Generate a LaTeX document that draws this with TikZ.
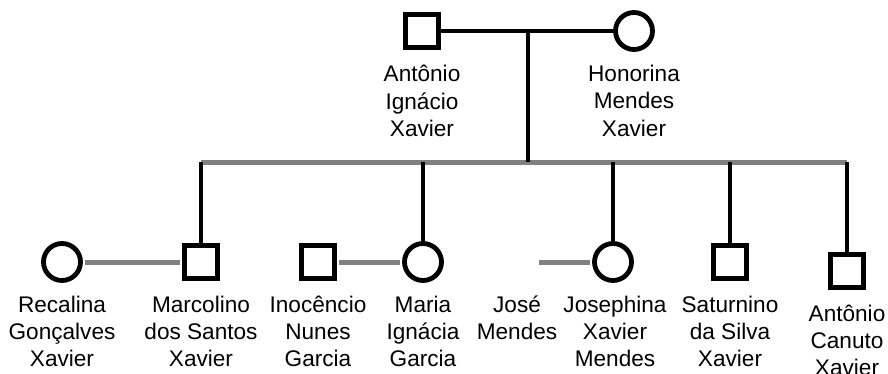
\documentclass[tikz,border=0pt]{standalone}
\usepackage{fontspec}
\setmainfont{Liberation Sans}
\usetikzlibrary{positioning,calc}

\begin{document}
\begin{tikzpicture}[x=0.5pt,y=-0.5pt,line width=2.4pt,
male/.style={rectangle, draw, fill=white, minimum size=16.5pt, inner sep=0pt},
female/.style={circle, draw, fill=white, minimum size=18.5pt, inner sep=0pt},
person/.style={align=center, inner sep=0pt, font=\fontsize{11.3}{13.6}\selectfont},
union/.style={draw=gray, line width=2.5pt, shorten <=1.2pt, shorten >=1.2pt}]
\useasboundingbox (0,0) rectangle (888,374);

% parents
\node[male] (ai) at (422,31) {};
\node[female] (hm) at (634,31) {};
\node[person, below=16pt of ai.center] (ail) {Antônio\\Ignácio\\Xavier};
\node[person, below=16pt of hm.center] (hml) {Honorina\\Mendes\\Xavier};

% children and partners
\node[female] (rg) at (62,262) {};
\node[male] (ms) at (201,262) {};
\node[male] (in) at (318,262) {};
\node[female] (mi) at (423,262) {};
\coordinate (jm) at (537,262);
\node[female] (jx) at (613,262) {};
\node[male] (ss) at (730,262) {};
\node[male] (ac) at (847,271) {};

\node[person, below=15.75pt of rg.center] (rgl) {Recalina\\Gonçalves\\Xavier};
\node[person, below=15.75pt of ms.center] (msl) {Marcolino\\dos Santos\\Xavier};
\node[person, below=15.75pt of in.center] (inl) {Inocêncio\\Nunes\\Garcia};
\node[person, below=15.75pt of mi.center] (mil) {Maria\\Ignácia\\Garcia};
\node[person, anchor=north] (jml) at (517,293) {José\\Mendes};
\node[person, below=15.75pt of jx.center, xshift=1pt] (jxl) {Josephina\\Xavier\\Mendes};
\node[person, below=15.75pt of ss.center] (ssl) {Saturnino\\da Silva\\Xavier};
\node[person, below=15.75pt of ac.center] (acl) {Antônio\\Canuto\\Xavier};

\coordinate (hub) at ($(ai)!0.5!(hm)$);
\coordinate (sib) at (hub |- 0,162);

\draw[union] (rg)--(ms);
\draw[union] (in)--(mi);
\draw[union] (jm)--(jx);
\draw[draw=gray, line width=2.5pt] (ms |- sib)--(ac |- sib);

\draw (ai)--(hm);
\draw (hub)--(sib);
\foreach \c in {ms,mi,jx,ss,ac}
  \draw (\c |- sib)--(\c);

\end{tikzpicture}
\end{document}
